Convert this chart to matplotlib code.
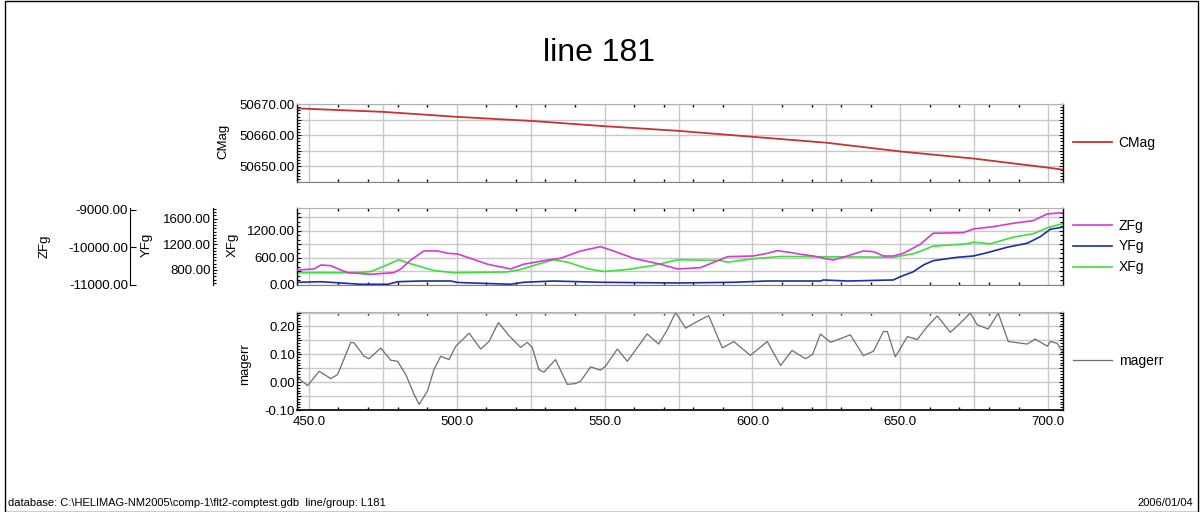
import matplotlib
matplotlib.use("Agg")
import matplotlib.pyplot as plt
from matplotlib.ticker import MultipleLocator, FuncFormatter
from matplotlib.patches import Rectangle

plt.rcParams['font.family'] = ['Liberation Sans', 'DejaVu Sans']

# ---- data (fiducial along line 181) ----
cmag_x = [446.3, 475, 500, 525, 550, 575, 600, 625, 650, 675, 700, 704.7]
cmag = [50668.6, 50667.5, 50665.9, 50664.6, 50662.9, 50661.4, 50659.5,
        50657.6, 50654.8, 50652.5, 50649.6, 50649.0]

zfg_x = [446.3, 451.7, 454.1, 457.4, 460.8, 463.2, 470.9, 478.7, 481.1, 484.5,
         488.9, 493.6, 497.0, 500.3, 510.5, 518.2, 522.6, 529.4, 535.1, 541.9,
         548.6, 553.0, 559.8, 568.9, 574.7, 582.4, 591.6, 600.3, 605.1, 608.4,
         612.8, 616.2, 620.6, 625.3, 627.4, 632.1, 637.5, 640.9, 644.3, 647.6,
         651.0, 656.8, 661.1, 671.3, 674.7, 681.4, 688.2, 694.9, 699.7, 704.7]
zfg = [-10600, -10573, -10467, -10485, -10600, -10672, -10715, -10672, -10573, -10333,
       -10093, -10093, -10155, -10173, -10448, -10573, -10448, -10352, -10288, -10093,
       -9979, -10093, -10288, -10448, -10573, -10539, -10245, -10227, -10155, -10085,
       -10133, -10181, -10227, -10307, -10333, -10227, -10093, -10112, -10227, -10227,
       -10155, -9915, -9621, -9605, -9507, -9445, -9355, -9285, -9106, -9072]

yfg_x = [446.3, 454.1, 467.6, 476.7, 480.1, 487.8, 498.0, 500.3, 518.2, 522.6,
         532.8, 548.6, 574.7, 593.6, 605.1, 623.0, 624.0, 632.1, 647.6, 650.0,
         654.4, 657.8, 661.1, 669.3, 674.7, 679.4, 686.1, 692.9, 697.3, 700.7, 704.7]
yfg = [608, 617, 577, 577, 617, 628, 628, 605, 577, 608,
       628, 608, 597, 608, 628, 628, 644, 628, 644, 695,
       773, 878, 945, 998, 1018, 1070, 1154, 1217, 1319, 1435, 1466]

xfg_x = [446.3, 454.0, 460.8, 467.6, 471.0, 476.0, 480.4, 484.5, 492.2, 499.0,
         517.0, 521.6, 526.0, 532.8, 537.5, 544.3, 549.7, 557.8, 566.5, 574.7,
         589.2, 591.6, 600.3, 609.5, 647.6, 654.4, 661.1, 672.6, 674.7, 680.4,
         688.2, 694.9, 699.7, 704.7]
xfg = [271, 271, 271, 278, 300, 433, 560, 470, 322, 271,
       289, 344, 433, 560, 506, 360, 300, 344, 433, 560,
       544, 506, 582, 633, 617, 693, 861, 915, 950, 915,
       1061, 1137, 1270, 1359]

magerr_x = [446.2, 449.6, 453.5, 457.4, 459.7, 464.2, 465.3, 468.7, 470.4, 474.3,
            477.7, 480.0, 482.8, 485.6, 487.3, 490.1, 492.3, 494.6, 497.4, 499.7,
            504.2, 508.1, 510.9, 514.1, 517.7, 521.6, 523.9, 525.6, 527.8, 529.5,
            533.4, 537.4, 540.2, 541.9, 545.3, 548.6, 550.3, 554.3, 557.7, 564.4,
            568.3, 571.2, 574.0, 577.4, 581.3, 585.2, 589.8, 593.7, 599.3, 605.0,
            609.5, 613.4, 617.9, 620.3, 623.0, 626.4, 633.1, 637.5, 640.9, 644.3,
            645.6, 648.3, 652.4, 655.7, 659.1, 662.5, 666.9, 670.3, 673.6, 676.0,
            679.7, 683.1, 686.5, 692.9, 695.6, 699.7, 700.7, 703.0, 704.7]
magerr = [0.016, -0.012, 0.039, 0.013, 0.027, 0.143, 0.141, 0.093, 0.084, 0.123,
          0.079, 0.075, 0.027, -0.044, -0.080, -0.032, 0.045, 0.093, 0.081, 0.129,
          0.176, 0.119, 0.146, 0.214, 0.167, 0.125, 0.143, 0.123, 0.045, 0.036,
          0.081, -0.008, -0.005, 0.004, 0.055, 0.043, 0.057, 0.119, 0.075, 0.173,
          0.137, 0.188, 0.250, 0.194, 0.218, 0.239, 0.123, 0.146, 0.096, 0.146,
          0.060, 0.114, 0.084, 0.099, 0.173, 0.143, 0.170, 0.095, 0.111, 0.182,
          0.182, 0.091, 0.164, 0.153, 0.200, 0.238, 0.179, 0.212, 0.248, 0.206,
          0.191, 0.248, 0.146, 0.137, 0.155, 0.129, 0.146, 0.140, 0.111]

xlim = (446.0, 705.0)
grid_c = '#c8c8c8'
tick_fs = 9.5


def every(step, fmt):
    # label only the ticks that fall on a multiple of step
    def f(v, pos):
        n = v / step
        return fmt % v if abs(n - round(n)) < 1e-6 else ''
    return FuncFormatter(f)


def style(ax, ymajor, yminor, ylab_step, yfmt, xlabels=False):
    ax.set_xlim(*xlim)
    ax.xaxis.set_major_locator(MultipleLocator(25))
    ax.xaxis.set_minor_locator(MultipleLocator(10))
    ax.xaxis.set_major_formatter(every(50, '%.1f') if xlabels else FuncFormatter(lambda v, p: ''))
    ax.yaxis.set_major_locator(MultipleLocator(ymajor))
    ax.yaxis.set_minor_locator(MultipleLocator(yminor))
    ax.yaxis.set_major_formatter(every(ylab_step, yfmt))
    ax.grid(True, which='major', color=grid_c, lw=1.0, zorder=0)
    ax.set_axisbelow(True)
    ax.tick_params(axis='x', which='major', length=0, labelsize=tick_fs, pad=4)
    ax.tick_params(axis='x', which='minor', direction='in', top=True, bottom=True,
                   length=2, width=1, color='black')
    ax.tick_params(axis='y', which='both', direction='in', left=True, right=True,
                   labelsize=tick_fs, pad=1.5, width=0.8)
    ax.tick_params(axis='y', which='major', length=3)
    ax.tick_params(axis='y', which='minor', length=2)
    for s in ['left', 'right']:
        ax.spines[s].set_color('black')
        ax.spines[s].set_linewidth(1.0)
    ax.spines['top'].set_color('#b0b0b0')
    ax.spines['bottom'].set_color('#808080')


fig = plt.figure(figsize=(12.01, 5.12), dpi=100)
L, W = 297 / 1201, 766 / 1201
ax_top = fig.add_axes([L, 0.6445, W, 0.1523])
ax_mid = fig.add_axes([L, 0.4434, W, 0.1504])
ax_bot = fig.add_axes([L, 0.1992, W, 0.1914])

# --- CMag ---
style(ax_top, 5, 1, 10, '%.2f')
ax_top.set_ylim(50645, 50670)
l_cmag, = ax_top.plot(cmag_x, cmag, color='#c83232', lw=1.3, label='CMag')

# --- XFg / YFg / ZFg ---
style(ax_mid, 300, 100, 600, '%.2f')
ax_mid.set_ylim(0, 1710)
ax_y = ax_mid.twinx()
ax_z = ax_mid.twinx()
for tw, pos in [(ax_y, -0.1097), (ax_z, -0.218)]:
    for s in ['right', 'top', 'bottom']:
        tw.spines[s].set_visible(False)
    tw.spines['left'].set_visible(True)
    tw.spines['left'].set_position(('axes', pos))
    tw.spines['left'].set_color('black')
    tw.yaxis.set_ticks_position('left')
    tw.tick_params(axis='y', which='both', direction='in', labelsize=tick_fs, pad=1.5, width=0.8)
    tw.tick_params(axis='y', which='major', length=3)
    tw.tick_params(axis='y', which='minor', length=2)
ax_y.set_ylim(566, 1767)
ax_y.yaxis.set_major_locator(MultipleLocator(400))
ax_y.yaxis.set_minor_locator(MultipleLocator(50))
ax_y.yaxis.set_major_formatter(FuncFormatter(lambda v, p: '%.2f' % v))
ax_z.set_ylim(-11000, -8947)
ax_z.yaxis.set_major_locator(MultipleLocator(1000))
ax_z.yaxis.set_major_formatter(FuncFormatter(lambda v, p: '%.2f' % v))
ax_z.tick_params(axis='y', which='major', length=4)
ax_mid.tick_params(axis='y', which='both', right=True)

l_x, = ax_mid.plot(xfg_x, xfg, color='#3ce03c', lw=1.2, label='XFg')
l_y, = ax_y.plot(yfg_x, yfg, color='#1e2ea0', lw=1.2, label='YFg')
l_z, = ax_z.plot(zfg_x, zfg, color='#d23cd2', lw=1.2, label='ZFg')

# --- magerr ---
style(ax_bot, 0.05, 0.01, 0.1, '%.2f', xlabels=True)
ax_bot.set_ylim(-0.10, 0.252)
ax_bot.spines['bottom'].set_color('black')
ax_bot.spines['bottom'].set_linewidth(1.2)
l_m, = ax_bot.plot(magerr_x, magerr, color='#6e6e6e', lw=0.9, label='magerr')

# legends to the right of each panel
leg_kw = dict(loc='center left', bbox_to_anchor=(1.0, 0.5), frameon=False, fontsize=10,
              handlelength=2.8, handletextpad=0.5, borderaxespad=0.3, labelspacing=0.5)
ax_top.legend(handles=[l_cmag], **leg_kw)
ax_mid.legend(handles=[l_z, l_y, l_x], **leg_kw)
ax_bot.legend(handles=[l_m], **leg_kw)

# channel names (drawn left of the tick labels)
lab_kw = dict(rotation=90, ha='center', va='center', fontsize=9.5)
ax_top.text(-0.0966, 0.52, 'CMag', transform=ax_top.transAxes, **lab_kw)
ax_mid.text(-0.0836, 0.52, 'XFg', transform=ax_mid.transAxes, **lab_kw)
ax_mid.text(-0.1958, 0.52, 'YFg', transform=ax_mid.transAxes, **lab_kw)
ax_mid.text(-0.329, 0.50, 'ZFg', transform=ax_mid.transAxes, **lab_kw)
ax_bot.text(-0.0679, 0.47, 'magerr', transform=ax_bot.transAxes, **lab_kw)

fig.text(599 / 1201, 1 - 53 / 512, 'line 181', ha='center', va='center', fontsize=23)
fig.text(8 / 1201, 1 - 503 / 512,
         'database: C:\\HELIMAG-NM2005\\comp-1\\flt2-comptest.gdb  line/group: L181',
         ha='left', va='center', fontsize=8)
fig.text(1193 / 1201, 1 - 503 / 512, '2006/01/04', ha='right', va='center', fontsize=8)

# page frame
fig.patches.append(Rectangle((4.5 / 1201, 0.5 / 512), 1193 / 1201, 511 / 512,
                             transform=fig.transFigure, fill=False, ec='black', lw=1.0))

fig.savefig('out.png', dpi=100)
